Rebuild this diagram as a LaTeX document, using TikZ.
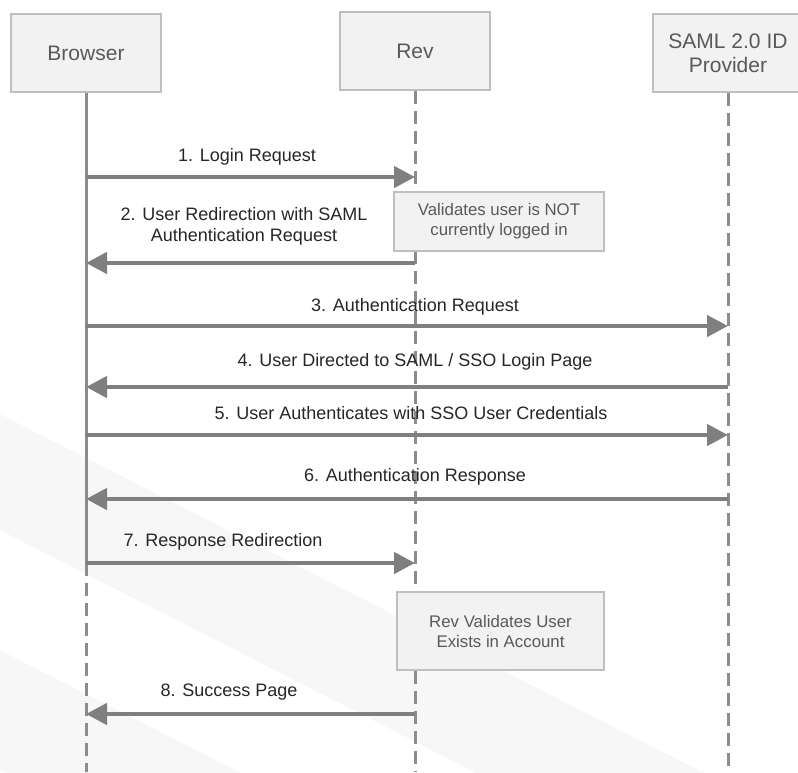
\documentclass[tikz,border=0pt]{standalone}
\usepackage{fontspec}
\setmainfont{Liberation Sans}
\usetikzlibrary{arrows.meta}
\definecolor{boxfill}{HTML}{F2F2F2}
\definecolor{boxline}{HTML}{BFBFBF}
\definecolor{arrowgray}{HTML}{7F7F7F}
\definecolor{lifegray}{HTML}{8C8C8C}
\definecolor{headtext}{HTML}{595959}
\definecolor{bandgray}{HTML}{F7F7F7}
\begin{document}
\begin{tikzpicture}[x=1pt,y=-1pt,
    actor/.style={draw=boxline, fill=boxfill, line width=1.2pt, minimum width=150pt,
      minimum height=78pt, align=center, text=headtext, font=\fontsize{21}{24}\selectfont},
    note/.style={draw=boxline, fill=boxfill, line width=1.2pt, align=center,
      text=headtext, font=\fontsize{16.8}{20}\selectfont},
    lbl/.style={align=center, text=black!85, font=\fontsize{18}{21}\selectfont},
    msg/.style={draw=arrowgray, line width=4.5pt, -{Triangle[length=21pt,width=21pt]}},
    life/.style={draw=lifegray, line width=3pt},
    lifedash/.style={life, dash pattern=on 13pt off 7pt}]
        \useasboundingbox (0,0) rectangle (798,772);
        % faint background bands
        \fill[bandgray] (0,414) -- (798,821) -- (798,937) -- (0,530) -- cycle;
        \fill[bandgray] (0,650) -- (798,1057) -- (798,1177) -- (0,770) -- cycle;

        \node[actor] (browser) at (86,53) {Browser};
        \node[actor] (rev) at (415,51) {Rev};
        \node[actor] (idp) at (728,53) {SAML 2.0 ID\\Provider};

        \foreach \n/\y in {1/177,2/263,3/326,4/387,5/435,6/499,7/563,8/714}
            \coordinate (m\n) at (0,\y);
        \coordinate (bottom) at (0,772);

        % lifelines
        \draw[life] (browser.south) -- (browser |- m7);
        \draw[lifedash] (browser |- m7) -- (browser |- bottom);
        \draw[lifedash] (rev.south) -- (rev |- bottom);
        \draw[lifedash] (idp.south) -- (idp |- bottom);

        \node[note, minimum width=210pt, minimum height=59pt] (chk1) at (499,221.5) {Validates user is NOT\\currently logged in};
        \node[note, minimum width=207pt, minimum height=78pt] (chk2) at (500.5,631) {Rev Validates User\\Exists in Account};

        \draw[msg] (browser |- m1) -- (rev |- m1);
        \draw[msg] (rev |- m2) -- (browser |- m2);
        \draw[msg] (browser |- m3) -- (idp |- m3);
        \draw[msg] (idp |- m4) -- (browser |- m4);
        \draw[msg] (browser |- m5) -- (idp |- m5);
        \draw[msg] (idp |- m6) -- (browser |- m6);
        \draw[msg] (browser |- m7) -- (rev |- m7);
        \draw[msg] (rev |- m8) -- (browser |- m8);

        \node[lbl] (l1) at (247,157) {1. Login Request};
        \node[lbl] (l2) at (244,226) {2. User Redirection with SAML\\Authentication Request};
        \node[lbl] (l3) at (415,307) {3. Authentication Request};
        \node[lbl] (l4) at (415,362) {4. User Directed to SAML / SSO Login Page};
        \node[lbl] (l5) at (411,413) {5. User Authenticates with SSO User Credentials};
        \node[lbl] (l6) at (415,477) {6. Authentication Response};
        \node[lbl] (l7) at (223,542) {7. Response Redirection};
        \node[lbl] (l8) at (229,692) {8. Success Page};
    \end{tikzpicture}
\end{document}
